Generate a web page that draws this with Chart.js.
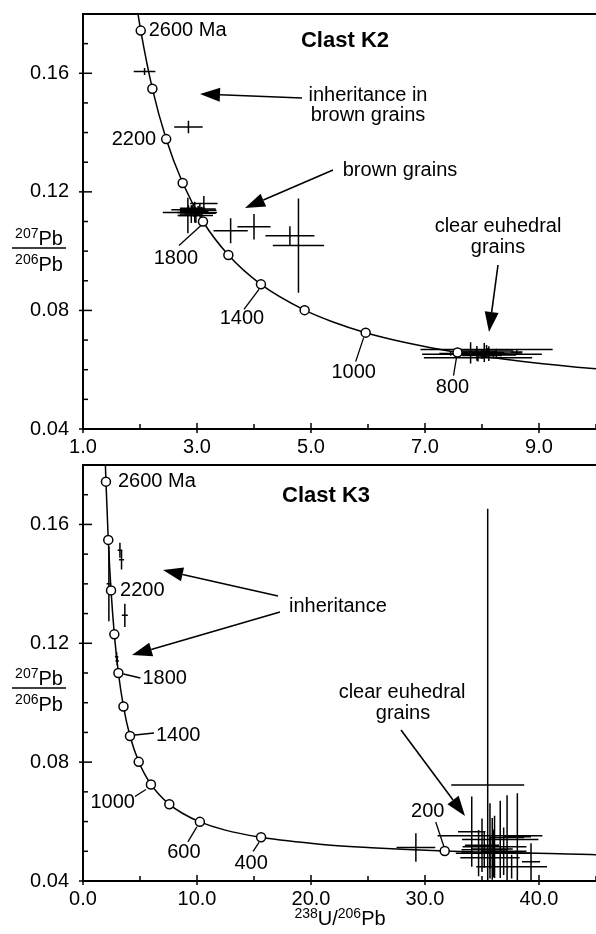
<!DOCTYPE html>
<html>
<head>
<meta charset="utf-8">
<script src="https://cdn.jsdelivr.net/npm/chart.js@4.4.1/dist/chart.umd.min.js"></script>
<style>
  html, body { margin: 0; padding: 0; background: #fff; }
  #wrap { position: relative; width: 596px; height: 934px; }
  canvas { position: absolute; left: 0; }
  #k2 { top: 0; }
  #k3 { top: 455px; }
</style>
</head>
<body>
<div id="wrap">
  <canvas id="k2" width="596" height="460" style="width:596px;height:460px"></canvas>
  <canvas id="k3" width="596" height="479" style="width:596px;height:479px"></canvas>
</div>
<script>
const FONT = "'Liberation Sans', Arial, Helvetica, sans-serif";

// concordia curve (238U/206Pb, 207Pb/206Pb)
const curveX = [1.922, 2.013, 2.217, 2.459, 2.749, 3.105, 3.550, 4.122, 4.888, 5.375, 5.959, 6.674, 7.570, 8.718, 10.252, 12.399, 15.62, 20.99, 25.29, 31.73, 42.48, 45.55];
const curveY = [0.1852, 0.1744, 0.1548, 0.1378, 0.1230, 0.1100, 0.0987, 0.0888, 0.0801, 0.0762, 0.0725, 0.0691, 0.0658, 0.0628, 0.0599, 0.0572, 0.0547, 0.0523, 0.0512, 0.0501, 0.0491, 0.0488];

// age markers on the concordia (Ma)
const markerAges = [2600, 2400, 2200, 2000, 1800, 1600, 1400, 1200, 1000, 800, 600, 400, 200];
const markerX = [2.013, 2.217, 2.459, 2.749, 3.105, 3.550, 4.122, 4.888, 5.959, 7.570, 10.252, 15.62, 31.73];
const markerY = [0.1744, 0.1548, 0.1378, 0.1230, 0.1100, 0.0987, 0.0888, 0.0801, 0.0725, 0.0658, 0.0599, 0.0547, 0.0501];

// Clast K2 analyses: centre and half error bars
const k2X  = [2.08, 2.85, 3.12, 3.59, 4.00, 4.63, 4.78,
              2.85, 2.95, 3.00, 2.90, 3.05, 2.98, 2.92, 3.08, 2.84, 3.02, 2.96, 2.80,
              8.08, 7.93, 8.00, 7.80, 7.91, 8.04, 8.12, 8.25, 8.61, 7.90, 8.10, 8.20, 8.00, 7.45];
const k2Y  = [0.1606, 0.1419, 0.1161, 0.1069, 0.1082, 0.1052, 0.1019,
              0.1140, 0.1135, 0.1130, 0.1125, 0.1142, 0.1120, 0.1145, 0.1128, 0.1120, 0.1138, 0.1132, 0.1130,
              0.0668, 0.0640, 0.0652, 0.0657, 0.0655, 0.0658, 0.0654, 0.0656, 0.0660, 0.0660, 0.0663, 0.0650, 0.0648, 0.0655];
const k2Ex = [0.19, 0.25, 0.24, 0.30, 0.29, 0.43, 0.45,
              0.30, 0.25, 0.35, 0.20, 0.28, 0.30, 0.22, 0.25, 0.18, 0.32, 0.15, 0.40,
              1.16, 0.95, 1.05, 0.25, 0.30, 0.35, 0.30, 0.45, 0.10, 0.35, 0.45, 0.40, 0.35, 0.20];
const k2Ey = [0.0012, 0.0021, 0.0025, 0.0042, 0.0043, 0.0032, 0.0159,
              0.0015, 0.0020, 0.0012, 0.0030, 0.0018, 0.0025, 0.0010, 0.0022, 0.0060, 0.0014, 0.0035, 0.0010,
              0.0015, 0.0012, 0.0015, 0.0036, 0.0025, 0.0032, 0.0025, 0.0015, 0.0008, 0.0008, 0.0010, 0.0010, 0.0010, 0.0008];

// Clast K3 analyses
const k3X  = [3.24, 3.38, 3.67, 2.27, 2.95, 3.00,
              35.5, 35.7, 36.6, 36.1, 36.0, 35.7, 37.6, 34.1, 37.2, 38.1, 39.3, 34.7, 35.2, 35.9, 36.9, 35.0, 29.2];
const k3Y  = [0.1513, 0.1481, 0.1294, 0.1400, 0.1155, 0.1140,
              0.0723, 0.0552, 0.0540, 0.0515, 0.0493, 0.0478, 0.0448, 0.0566, 0.0546, 0.0549, 0.0465, 0.0494, 0.0505, 0.0508, 0.0500, 0.0520, 0.0513];
const k3Ex = [0.20, 0.22, 0.26, 0.20, 0.15, 0.15,
              3.2, 4.6, 3.35, 2.8, 3.3, 2.6, 3.1, 1.2, 1.5, 1.2, 0.8, 1.5, 2.0, 1.8, 2.0, 1.5, 1.7];
const k3Ey = [0.0025, 0.0033, 0.0039, 0.0126, 0.0015, 0.0015,
              0.093, 0.011, 0.013, 0.0105, 0.008, 0.007, 0.004, 0.0118, 0.0143, 0.0146, 0.0062, 0.0078, 0.006, 0.0104, 0.008, 0.009, 0.0048];

// tick labels
const k2XTicks = ['1.0', '3.0', '5.0', '7.0', '9.0'];
const k3XTicks = ['0.0', '10.0', '20.0', '30.0', '40.0'];
const yTicks = ['0.04', '0.08', '0.12', '0.16'];

const curve = curveX.map((x, i) => ({ x, y: curveY[i] }));
const markers = markerX.map((x, i) => ({ x, y: markerY[i] }));
const crosses = (xs, ys, exs, eys) => xs.map((x, i) => ({ x, y: ys[i], ex: exs[i], ey: eys[i] }));

function isoText(ctx, parts, x, y, align) {
  const big = '20px ' + FONT, small = '14px ' + FONT;
  let w = 0;
  parts.forEach(p => { ctx.font = p[1] ? small : big; w += ctx.measureText(p[0]).width; });
  let cx = align === 'center' ? x - w / 2 : x;
  ctx.textAlign = 'left';
  ctx.textBaseline = 'alphabetic';
  parts.forEach(p => {
    ctx.font = p[1] ? small : big;
    ctx.fillText(p[0], cx, p[1] ? y - 7 : y);
    cx += ctx.measureText(p[0]).width;
  });
}

function arrow(ctx, x1, y1, x2, y2) {
  const a = Math.atan2(y2 - y1, x2 - x1), L = 20, W = 7;
  const bx = x2 - L * Math.cos(a), by = y2 - L * Math.sin(a);
  ctx.beginPath();
  ctx.moveTo(x1, y1); ctx.lineTo(bx, by);
  ctx.lineWidth = 1.6; ctx.stroke();
  ctx.beginPath();
  ctx.moveTo(x2, y2);
  ctx.lineTo(bx + W * Math.sin(a), by - W * Math.cos(a));
  ctx.lineTo(bx - W * Math.sin(a), by + W * Math.cos(a));
  ctx.closePath(); ctx.fill();
}

function makePanel(id, p) {
  const deco = {
    id: 'deco_' + id,
    afterDatasetDraw(chart, args) {
      if (args.index !== 2) return;
      const { ctx, chartArea: ca, scales: { x, y } } = chart;
      ctx.save();
      ctx.beginPath(); ctx.rect(ca.left, ca.top, ca.right - ca.left, ca.bottom - ca.top); ctx.clip();
      ctx.strokeStyle = '#000'; ctx.lineWidth = 1.5;
      chart.data.datasets[2].data.forEach(d => {
        const px = x.getPixelForValue(d.x), py = y.getPixelForValue(d.y);
        ctx.beginPath();
        ctx.moveTo(x.getPixelForValue(d.x - d.ex), py); ctx.lineTo(x.getPixelForValue(d.x + d.ex), py);
        ctx.moveTo(px, y.getPixelForValue(d.y - d.ey)); ctx.lineTo(px, y.getPixelForValue(d.y + d.ey));
        ctx.stroke();
      });
      ctx.restore();
    },
    afterDraw(chart) {
      const { ctx, chartArea: ca, scales: { x, y } } = chart;
      const off = p.offset;
      ctx.save();
      ctx.strokeStyle = '#000'; ctx.fillStyle = '#000';
      // top frame line
      ctx.lineWidth = 2;
      ctx.beginPath(); ctx.moveTo(ca.left - 1, ca.top); ctx.lineTo(ca.right, ca.top); ctx.stroke();
      // tick marks
      ctx.lineWidth = 1.5;
      x.ticks.forEach(t => {
        const px = x.getPixelForValue(t.value), major = t.label !== '';
        ctx.beginPath(); ctx.moveTo(px, ca.bottom + (major ? 4 : 0)); ctx.lineTo(px, ca.bottom - (major ? 6 : 5)); ctx.stroke();
      });
      y.ticks.forEach(t => {
        const py = y.getPixelForValue(t.value), major = t.label !== '';
        ctx.beginPath(); ctx.moveTo(ca.left - (major ? 4 : 0), py); ctx.lineTo(ca.left + (major ? 9 : 5), py); ctx.stroke();
      });
      // age labels
      ctx.font = '20px ' + FONT;
      ctx.textBaseline = 'middle';
      p.ages.forEach(a => {
        const i = markerAges.indexOf(a.age);
        const mx = x.getPixelForValue(markerX[i]), my = y.getPixelForValue(markerY[i]);
        if (a.lead) {
          ctx.lineWidth = 1.3;
          ctx.beginPath(); ctx.moveTo(mx + a.lead[0], my + a.lead[1]); ctx.lineTo(mx + a.lead[2], my + a.lead[3]); ctx.stroke();
        }
        ctx.textAlign = a.align;
        ctx.fillText(a.text, mx + a.dx, my + a.dy);
      });
      // notes
      p.notes.forEach(n => {
        ctx.font = (n.bold ? 'bold 22px ' : '20px ') + FONT;
        ctx.textAlign = n.align || 'center';
        ctx.fillText(n.text, n.x, n.y - off);
      });
      p.arrows.forEach(a => arrow(ctx, a[0], a[1] - off, a[2], a[3] - off));
      // y-axis title
      const ly = p.fracY - off;
      isoText(ctx, [['207', true], ['Pb', false]], 39, ly - 3, 'center');
      ctx.lineWidth = 1.5;
      ctx.beginPath(); ctx.moveTo(12, ly); ctx.lineTo(66, ly); ctx.stroke();
      isoText(ctx, [['206', true], ['Pb', false]], 39, ly + 23, 'center');
      if (p.xTitle) {
        isoText(ctx, [['238', true], ['U/', false], ['206', true], ['Pb', false]], 340, 925 - off, 'center');
      }
      ctx.restore();
    }
  };

  new Chart(document.getElementById(id), {
    type: 'scatter',
    data: {
      datasets: [
        { data: markers, pointRadius: 4.5, pointBackgroundColor: '#fff', pointBorderColor: '#000', pointBorderWidth: 1.5, order: 0 },
        { data: curve, showLine: true, pointRadius: 0, borderColor: '#000', borderWidth: 1.5, cubicInterpolationMode: 'monotone', order: 2 },
        { data: p.crosses, pointRadius: 0, order: 1 }
      ]
    },
    options: {
      responsive: false,
      animation: false,
      events: [],
      layout: { autoPadding: false, padding: { top: p.top, left: 0, right: 0, bottom: 0 } },
      plugins: { legend: { display: false }, tooltip: { enabled: false } },
      scales: {
        x: {
          type: 'linear', min: p.xMin, max: p.xMax,
          afterFit: s => { s.height = p.xH; s.paddingLeft = 0; s.paddingRight = 0; },
          ticks: {
            stepSize: p.xStep, autoSkip: false, maxRotation: 0, color: '#000', padding: 6,
            font: { family: FONT, size: 20 },
            callback: v => { const s = v.toFixed(1); return p.xTicks.includes(s) ? s : ''; }
          },
          grid: { display: false, drawTicks: false },
          border: { display: true, color: '#000', width: 2 }
        },
        y: {
          type: 'linear', min: 0.04, max: 0.18,
          afterFit: s => { s.width = 83; s.paddingTop = 0; s.paddingBottom = 0; },
          ticks: {
            stepSize: 0.01, autoSkip: false, color: '#000', padding: 14,
            font: { family: FONT, size: 20 },
            callback: v => { const s = v.toFixed(2); return yTicks.includes(s) ? s : ''; }
          },
          grid: { display: false, drawTicks: false },
          border: { display: true, color: '#000', width: 2 }
        }
      }
    },
    plugins: [deco]
  });
}

makePanel('k2', {
  offset: 0, top: 14, xH: 31, xMin: 1, xMax: 10, xStep: 1, xTicks: k2XTicks,
  crosses: crosses(k2X, k2Y, k2Ex, k2Ey),
  fracY: 248, xTitle: false,
  ages: [
    { age: 2600, text: '2600 Ma', dx: 8, dy: 0, align: 'left' },
    { age: 2200, text: '2200', dx: -10, dy: 0, align: 'right' },
    { age: 1800, text: '1800', dx: -27, dy: 37, align: 'center', lead: [-2, 4, -24, 24] },
    { age: 1400, text: '1400', dx: -19, dy: 34, align: 'center', lead: [-2, 5, -17, 25] },
    { age: 1000, text: '1000', dx: -12, dy: 40, align: 'center', lead: [-2, 5, -10, 29] },
    { age: 800, text: '800', dx: -5, dy: 35, align: 'center', lead: [-1, 5, -4, 23] }
  ],
  notes: [
    { text: 'Clast K2', x: 345, y: 41, bold: true },
    { text: 'inheritance in', x: 368, y: 95 },
    { text: 'brown grains', x: 368, y: 115 },
    { text: 'brown grains', x: 400, y: 170 },
    { text: 'clear euhedral', x: 498, y: 226 },
    { text: 'grains', x: 498, y: 247 }
  ],
  arrows: [[302, 98, 200, 94], [333, 170, 245, 208], [498, 265, 489, 332]]
});

makePanel('k3', {
  offset: 455, top: 10, xH: 53, xMin: 0, xMax: 45, xStep: 5, xTicks: k3XTicks,
  crosses: crosses(k3X, k3Y, k3Ex, k3Ey),
  fracY: 688, xTitle: true,
  ages: [
    { age: 2600, text: '2600 Ma', dx: 12, dy: 0, align: 'left' },
    { age: 2200, text: '2200', dx: 9, dy: 0, align: 'left' },
    { age: 1800, text: '1800', dx: 24, dy: 5, align: 'left', lead: [5, 1, 22, 5] },
    { age: 1400, text: '1400', dx: 26, dy: -1, align: 'left', lead: [5, -1, 24, -3] },
    { age: 1000, text: '1000', dx: -16, dy: 18, align: 'right', lead: [-5, 5, -16, 12] },
    { age: 600, text: '600', dx: -16, dy: 31, align: 'center', lead: [-3, 5, -12, 20] },
    { age: 400, text: '400', dx: -10, dy: 26, align: 'center', lead: [-2, 5, -8, 14] },
    { age: 200, text: '200', dx: -17, dy: -40, align: 'center', lead: [-1, -5, -9, -29] }
  ],
  notes: [
    { text: 'Clast K3', x: 282, y: 496, bold: true, align: 'left' },
    { text: 'inheritance', x: 289, y: 606, align: 'left' },
    { text: 'clear euhedral', x: 402, y: 692 },
    { text: 'grains', x: 403, y: 713 }
  ],
  arrows: [[278, 596, 163, 570], [280, 612, 132, 655], [401, 730, 465, 816]]
});
</script>
</body>
</html>
